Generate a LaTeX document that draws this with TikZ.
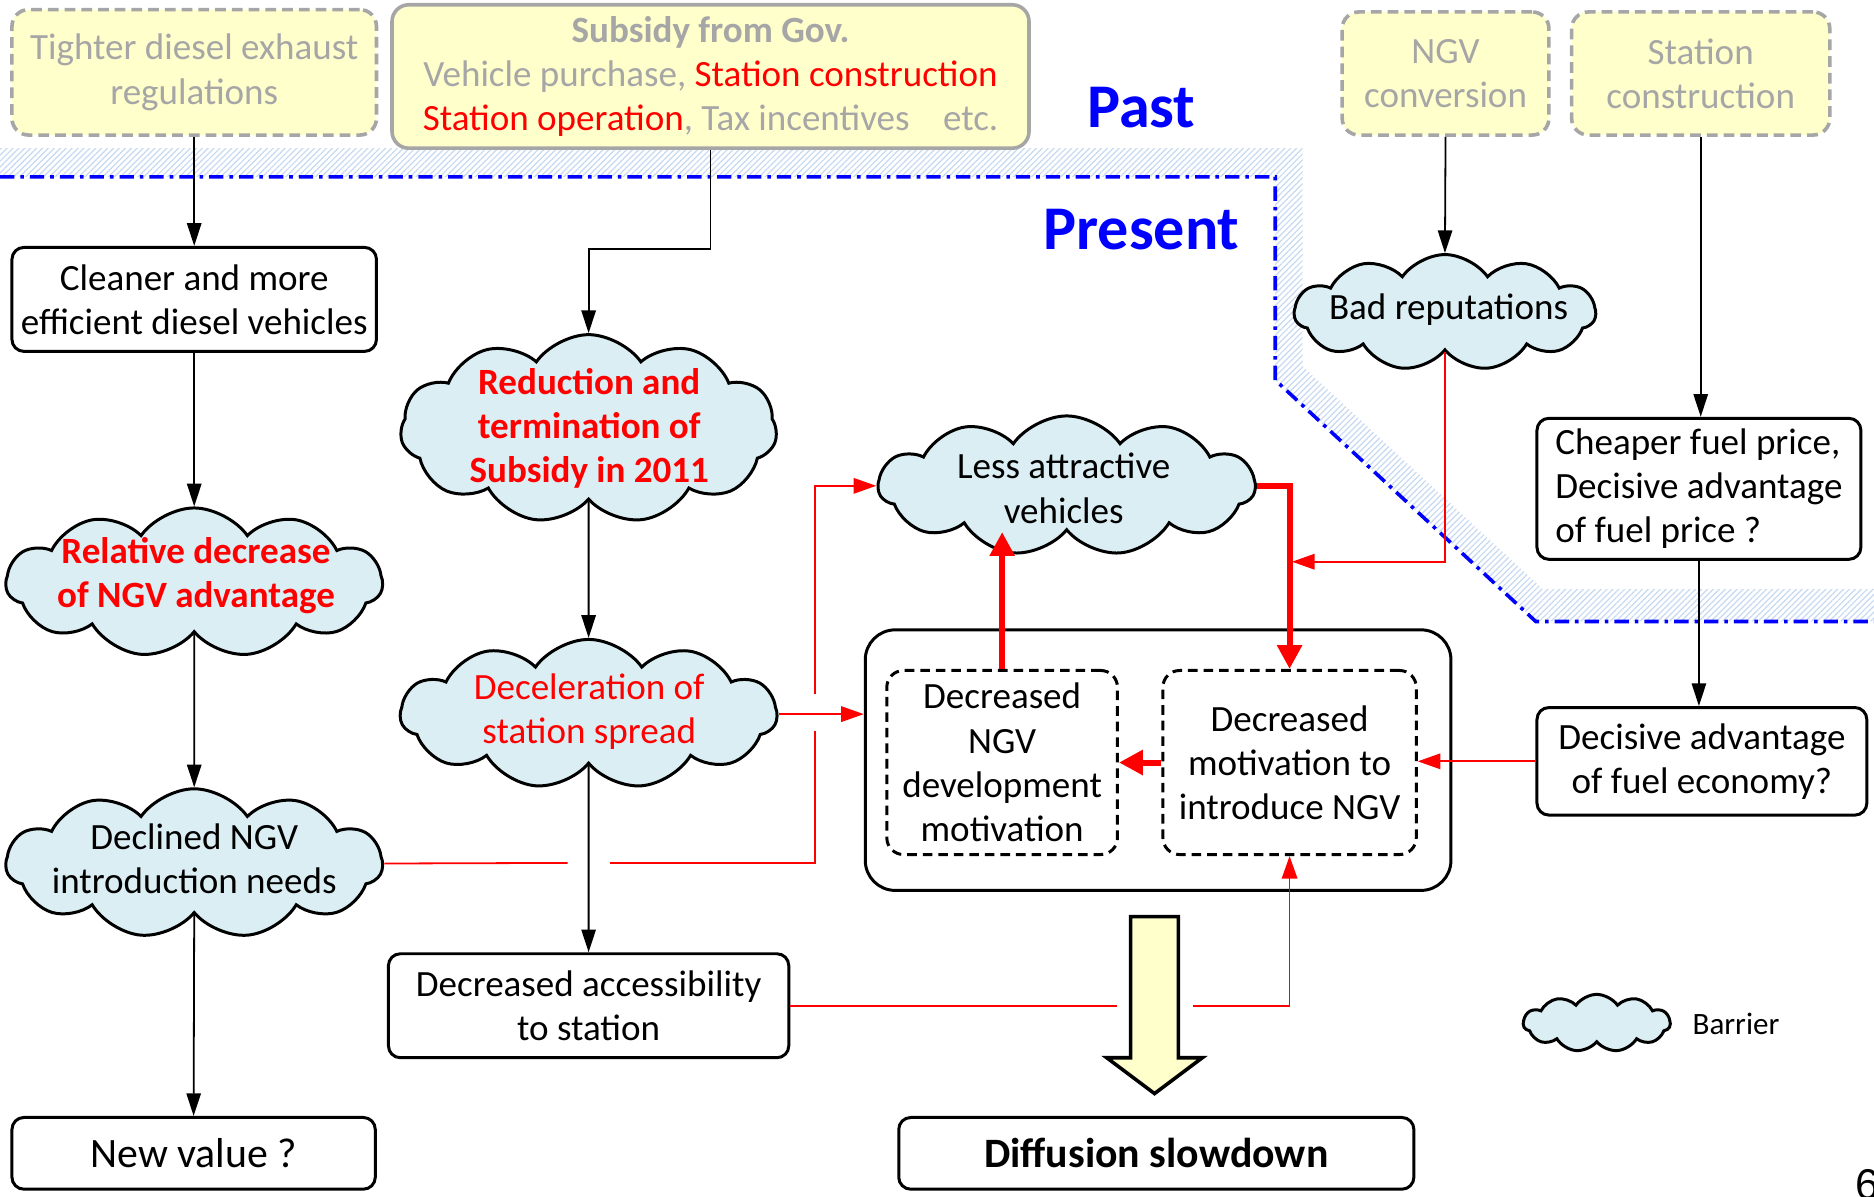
\documentclass[tikz,border=0pt]{standalone}
\usepackage{fontspec}
\setmainfont{Carlito}
\newfontfamily\arialfont{Liberation Sans}
\usetikzlibrary{shapes.symbols, arrows.meta, patterns.meta}
\definecolor{pastyellow}{HTML}{FFFFCC}
\definecolor{cloudblue}{HTML}{DAEEF3}
\definecolor{txtgray}{HTML}{A6A6A6}
\definecolor{hatchblue}{HTML}{C6D9F1}
\definecolor{pred}{HTML}{FF0000}
\definecolor{pblue}{HTML}{0000FF}
\begin{document}
\begin{tikzpicture}[x=1pt,y=-1pt,
  txt/.style={font=\fontsize{31}{37}\selectfont, align=center, inner sep=0pt},
  pastbox/.style={txt, text=txtgray, fill=pastyellow, draw=txtgray, line width=3pt, rounded corners=14pt},
  dpast/.style={pastbox, dash pattern=on 9pt off 5pt},
  nowbox/.style={txt, draw=black, line width=2.5pt, rounded corners=10pt},
  dbox/.style={txt, draw=black, line width=2.5pt, rounded corners=14pt, dash pattern=on 8pt off 5pt},
  barrier/.style={cloud, cloud puffs=11, cloud puff arc=110, cloud ignores aspect, inner sep=0pt, fill=cloudblue, draw=black, line width=2.5pt},
  boldtxt/.style={font=\fontsize{31}{37}\selectfont\bfseries},
  blk/.style={line width=1.5pt, -{Triangle[length=19pt,width=12pt]}},
  rthin/.style={pred, line width=1.5pt},
  rarr/.style={rthin, -{Triangle[length=19pt,width=13pt]}},
  rthick/.style={pred, line width=5pt, -{Triangle[length=20pt,width=20pt]}},
]
\useasboundingbox (0,0) rectangle (1568,1001);

% past / present boundary
\fill[pattern={Lines[angle=45,distance=3.5pt,line width=1pt]}, pattern color=hatchblue]
  (0,124) -- (1090,124) -- (1090,306.6) -- (1291,493) -- (1568,493) -- (1568,520)
  -- (1285,520) -- (1067,318) -- (1067,148) -- (0,148) -- cycle;
\draw[pblue, line width=3pt, dash pattern=on 12pt off 5pt on 3pt off 5pt]
  (0,148) -- (1067,148) -- (1067,318) -- (1285,520) -- (1568,520);
\node[font=\fontsize{52}{60}\selectfont\bfseries, text=pblue] (past) at (955,90) {Past};
\node[font=\fontsize{52}{60}\selectfont\bfseries, text=pblue] (present) at (955,192) {Present};

% past boxes
\node[dpast, minimum width=305pt, minimum height=105pt] (tight) at (162.5,60.5) {Tighter diesel exhaust\\regulations};
\node[pastbox, minimum width=533pt, minimum height=120pt] (subsidy) at (594.5,64)
  {\textbf{Subsidy from Gov.}\\Vehicle purchase, \textcolor{pred}{Station construction}\\\textcolor{pred}{Station operation}, Tax incentives\hspace{28pt}etc.};
\node[dpast, minimum width=173pt, minimum height=103pt] (ngv) at (1209.5,61.5) {NGV\\conversion};
\node[dpast, minimum width=216pt, minimum height=103pt] (stc) at (1423,61.5) {Station\\construction};

% present boxes
\node[nowbox, minimum width=305pt, minimum height=87pt] (clean) at (162.5,250.5) {Cleaner and more\\efficient diesel vehicles};
\node[nowbox, font=\fontsize{35}{42}\selectfont, minimum width=304pt, minimum height=60pt] (newv) at (162,965) {New value ?};
\node[nowbox, minimum width=335pt, minimum height=87pt] (acc) at (492.5,841.5) {Decreased accessibility\\to station};
\node[nowbox, rounded corners=25pt, minimum width=490pt, minimum height=218pt] (big) at (969,636) {};
\node[dbox, minimum width=193pt, minimum height=154pt] (ldash) at (838.5,638) {Decreased\\NGV\\development\\motivation};
\node[dbox, minimum width=212pt, minimum height=154pt] (rdash) at (1079,638) {Decreased\\motivation to\\introduce NGV};
\node[nowbox, align=left, minimum width=271pt, minimum height=118pt] (cheap) at (1421.5,409) {Cheaper fuel price,\\Decisive advantage\\of fuel price ?};
\node[nowbox, minimum width=276pt, minimum height=90pt] (econ) at (1424,637) {Decisive advantage\\of fuel economy?};
\node[nowbox, font=\fontsize{35}{42}\selectfont\bfseries, minimum width=431pt, minimum height=60pt] (diff) at (967.5,965) {Diffusion slowdown};

% barrier clouds and their texts
\node[barrier, minimum width=315pt, minimum height=125pt] (rel) at (162.5,487.5) {};
\node[txt, boldtxt, text=pred] (relt) at (164,481.5) {Relative decrease\\of NGV advantage};
\node[barrier, minimum width=315pt, minimum height=125pt] (decl) at (162.5,722.5) {};
\node[txt] (declt) at (162.5,718.5) {Declined NGV\\introduction needs};
\node[barrier, minimum width=315pt, minimum height=158pt] (reduc) at (492.5,359) {};
\node[txt, boldtxt, text=pred] (reduct) at (493,358.5) {Reduction and\\termination of\\Subsidy in 2011};
\node[barrier, minimum width=315pt, minimum height=125pt] (decel) at (492.5,597.5) {};
\node[txt, text=pred] (decelt) at (493,595.5) {Deceleration of\\station spread};
\node[barrier, minimum width=315pt, minimum height=117pt] (less) at (892.5,406.5) {};
\node[txt] (lesst) at (890,408.5) {Less attractive\\vehicles};
\node[barrier, minimum width=252pt, minimum height=97pt] (bad) at (1209,261.5) {};
\node[txt] (badt) at (1212,259) {Bad reputations};

% yellow block arrow
\draw[fill=pastyellow, line width=3pt, line join=miter]
  (946,767) -- (986,767) -- (986,885) -- (1006,885) -- (966,915) -- (926,885) -- (946,885) -- cycle;

% legend
\node[barrier, minimum width=123pt, minimum height=48pt] (leg) at (1336,856) {};
\node[font=\fontsize{26}{30}\selectfont, anchor=west, inner sep=0pt] (legtxt) at (1416,857) {Barrier};
\node[font=\arialfont\fontsize{36}{40}\selectfont, anchor=north west, inner sep=0pt] (pnum) at (1552,978) {6};

% black connectors
\draw[blk] (tight.south) -- (clean.north);
\draw[blk] (subsidy.south) -- ++(0,83) -| (reduc.north);
\draw[blk] (clean.south) -- (rel.north);
\draw[blk] (rel.south) -- (decl.north);
\draw[blk] (decl.south) -- (newv.north);
\draw[blk] (reduc.south) -- (decel.north);
\draw[blk] (decel.south) -- (acc.north);
\draw[blk] (ngv.south) -- (bad.north);
\draw[blk] (stc.south) -- (stc.south |- cheap.north);
\draw[blk] (cheap.south) -- (cheap.south |- econ.north);

% red thin connectors
\coordinate (g1) at (475,722);
\coordinate (g2) at (510,722);
\coordinate (g3) at (682,612);
\coordinate (g4) at (682,581);
\draw[rthin] (decl.east) -- (g1);
\draw[rthin] (g2) -| (g3);
\draw[rarr] (g4) |- (less.west);
\draw[rarr] (decel.east) -- (decel.east -| big.west);
\coordinate (j1) at (1081,470);
\draw[rarr] (bad.south) |- (j1);
\draw[rarr] (econ.west) -- (econ.west -| rdash.east);
\coordinate (g5) at (935,841.5);
\coordinate (g6) at (998,841.5);
\draw[rthin] (acc.east) -- (g5);
\draw[rarr] (g6) -| (rdash.south);

% red thick connectors
\draw[rthick] (ldash.north) -- (ldash.north |- less.south);
\draw[rthick] (less.east) -| (rdash.north);
\draw[rthick] (rdash.west) -- (ldash.east);
\end{tikzpicture}
\end{document}
